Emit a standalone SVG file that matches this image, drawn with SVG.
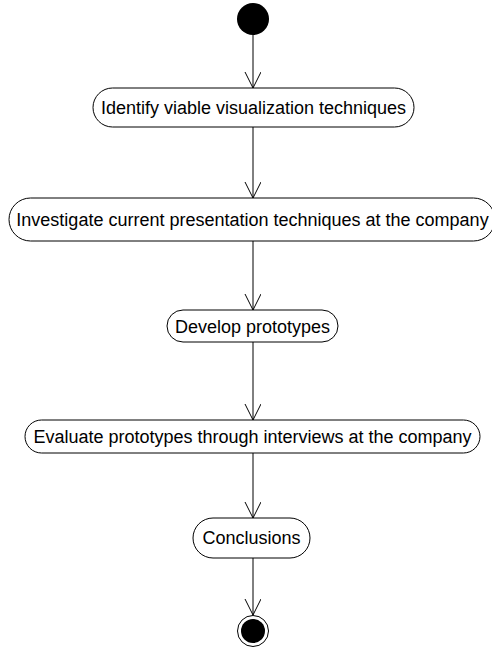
<svg xmlns="http://www.w3.org/2000/svg" width="492" height="648" viewBox="0 0 492 648">
<style>
.node rect{fill:#fff;stroke:#000;stroke-width:1}
.node text{font-family:"Liberation Sans",Arial,sans-serif;font-size:18px;fill:#000;text-anchor:middle}
.edge{stroke:#000;stroke-width:1;fill:none}
</style>
<defs>
<marker id="open" markerWidth="20" markerHeight="20" refX="16" refY="8" orient="auto" markerUnits="userSpaceOnUse">
<path d="M0,0 L16,8 L0,16" fill="none" stroke="#000" stroke-width="1"/>
</marker>
</defs>
<rect width="492" height="648" fill="#fff"/>
<g id="connectors">
<line class="edge" x1="253" y1="35" x2="253" y2="88" marker-end="url(#open)"/>
<line class="edge" x1="253" y1="127" x2="253" y2="198" marker-end="url(#open)"/>
<line class="edge" x1="253" y1="241" x2="253" y2="310" marker-end="url(#open)"/>
<line class="edge" x1="253" y1="342" x2="253" y2="420" marker-end="url(#open)"/>
<line class="edge" x1="253" y1="453" x2="253" y2="518" marker-end="url(#open)"/>
<line class="edge" x1="253" y1="558" x2="253" y2="615" marker-end="url(#open)"/>
</g>
<g id="start"><ellipse cx="253" cy="19" rx="16" ry="16" fill="#000"/></g>
<g id="n1" class="node"><rect x="93" y="88" width="321" height="39" rx="19.5"/><text x="253.5" y="114">Identify viable visualization techniques</text></g>
<g id="n2" class="node"><rect x="9" y="198" width="486" height="43" rx="21.5"/><text x="252.5" y="226">Investigate current presentation techniques at the company</text></g>
<g id="n3" class="node"><rect x="167" y="310" width="171" height="32" rx="16"/><text x="252.5" y="333">Develop prototypes</text></g>
<g id="n4" class="node"><rect x="25" y="420" width="455" height="33" rx="16.5"/><text x="252.5" y="443">Evaluate prototypes through interviews at the company</text></g>
<g id="n5" class="node"><rect x="193" y="518" width="117" height="40" rx="20"/><text x="251.5" y="544">Conclusions</text></g>
<g id="end"><circle cx="253" cy="631" r="15.5" fill="#fff" stroke="#000" stroke-width="1"/><circle cx="253" cy="631" r="12" fill="#000"/></g>
</svg>
